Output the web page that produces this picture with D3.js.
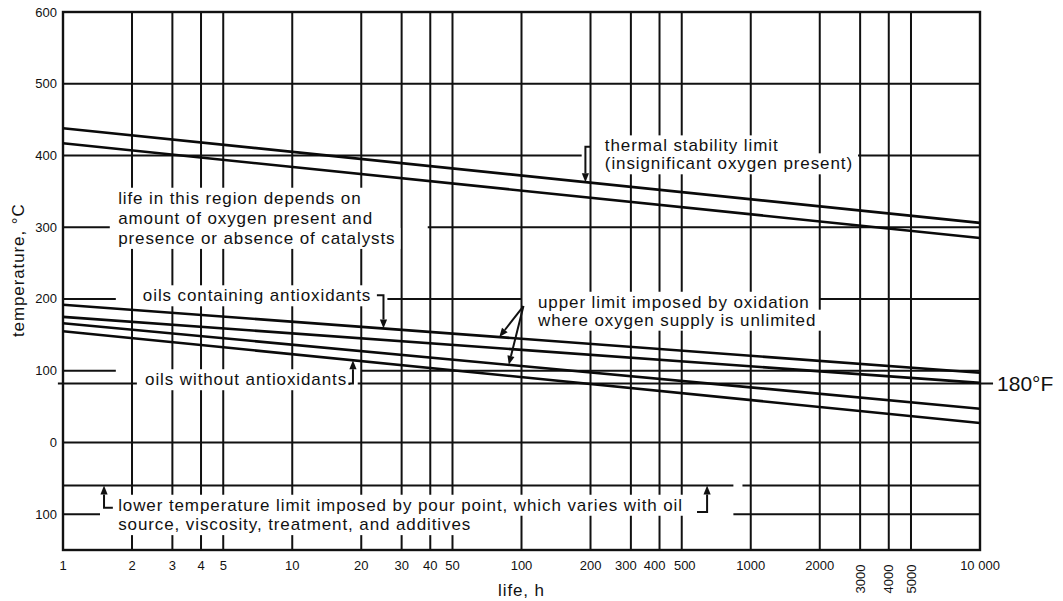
<!DOCTYPE html>
<html>
<head>
<meta charset="utf-8">
<script src="https://cdn.jsdelivr.net/npm/d3@7"></script>
<style>
  body { margin: 0; background: #fff; }
  svg { display: block; font-family: "Liberation Sans", Arial, Helvetica, sans-serif; }
  .grid { stroke: #111; stroke-width: 2; fill: none; }
  .curve { stroke: #0a0a0a; stroke-width: 2.6; fill: none; }
  .pointer { stroke: #111; stroke-width: 2; fill: none; }
  .note { font-size: 17px; letter-spacing: 0.9px; fill: #111; }
  .tick { font-size: 13px; fill: #111; }
</style>
</head>
<body>
<div id="chart"></div>
<script>
// axes: life in hours (log) and temperature in deg C
var lifeTicks = [1, 2, 3, 4, 5, 10, 20, 30, 40, 50, 100, 200, 300, 400, 500, 1000, 2000, 3000, 4000, 5000, 10000];
var lifeTickLabels = ["1", "2", "3", "4", "5", "10", "20", "30", "40", "50", "100", "200", "300", "400", "500",
    "1000", "2000", "3000", "4000", "5000", "10 000"];
var rotatedTicks = [3000, 4000, 5000];
var tempTicks = [600, 500, 400, 300, 200, 100, 0, -100];
var tempTickLabels = ["600", "500", "400", "300", "200", "100", "0", "100"];

// each limit line, read at 1 h and at 10 000 h
var lifeEnds = [1, 10000];
var thermalUpper = [438, 306];
var thermalLower = [417, 285];
var oxidation1 = [192, 97];
var oxidation2 = [175, 83];
var oxidation3 = [166, 47];
var oxidation4 = [155, 27];

var pourPoint = -60;
var limit180F = (180 - 32) * 5 / 9;

// horizontal rules, broken where the notes sit (spans in h)
var hRules = [
    {t: 500, spans: [[1, 10000]]},
    {t: 400, spans: [[1, 183], [2850, 10000]]},
    {t: 300, spans: [[1, 1.6], [39, 10000]]},
    {t: 200, spans: [[1, 1.7], [26, 100], [2000, 10000]]},
    {t: 100, spans: [[1, 1.7], [20, 10000]]},
    {t: limit180F, spans: [[0.95, 2.1], [18, 11400]]},
    {t: 0, spans: [[1, 10000]]},
    {t: pourPoint, spans: [[1, 840], [920, 10000]]},
    {t: -100, spans: [[1, 1.45], [840, 10000]]}
];

// notes: start (h) and line centres (deg C)
var notes = [
    {h: 231, t: [414, 389], lines: ["thermal stability limit", "(insignificant oxygen present)"]},
    {h: 1.74, t: [341, 313, 285], lines: ["life in this region depends on", "amount of oxygen present and",
        "presence or absence of catalysts"]},
    {h: 2.23, t: [205], lines: ["oils containing antioxidants"]},
    {h: 2.28, t: [88], lines: ["oils without antioxidants."]},
    {h: 118, t: [196, 171], lines: ["upper limit imposed by oxidation", "where oxygen supply is unlimited"]},
    {h: 1.74, t: [-87, -114], lines: ["lower temperature limit imposed by pour point, which varies with oil",
        "source, viscosity, treatment, and additives"]}
];

var width = 1063, height = 601;
var margin = {top: 12, right: 83, bottom: 51, left: 63};

var x = d3.scaleLog().domain([1, 10000]).range([margin.left, width - margin.right]);
var y = d3.scaleLinear().domain([-150, 600]).range([height - margin.bottom, margin.top]);

// crowded labels sit a little off their rules, as in the print
var labelNudge = {300: -5, 400: -5, 500: 3};

// straight line on the log axis
function lineAt(ends, h) {
    var f = Math.log10(h / lifeEnds[0]) / Math.log10(lifeEnds[1] / lifeEnds[0]);
    return ends[0] + (ends[1] - ends[0]) * f;
}

var pointers = [
    [[200, 412], [190, 412], [190, lineAt(thermalUpper, 190)]],
    [[23.4, 205], [25, 205], [25, lineAt(oxidation1, 25)]],
    [[102, 190], [80, lineAt(oxidation1, 80)]],
    [[102, 190], [88, lineAt(oxidation3, 88)]],
    [[17.6, limit180F], [18.4, limit180F], [18.4, lineAt(oxidation4, 18.4)]],
    [[1.65, -91], [1.51, -91], [1.51, pourPoint]],
    [[583, -97], [645, -97], [645, pourPoint]]
];

var svg = d3.select("#chart").append("svg")
    .attr("width", width)
    .attr("height", height);

// vertical rules
svg.append("g").selectAll("line")
    .data(lifeTicks)
    .enter().append("line")
    .attr("class", "grid")
    .attr("x1", function (d) { return x(d); })
    .attr("x2", function (d) { return x(d); })
    .attr("y1", y(600))
    .attr("y2", y(-150));

// horizontal rules
hRules.forEach(function (r) {
    svg.append("g").selectAll("line")
        .data(r.spans)
        .enter().append("line")
        .attr("class", "grid")
        .attr("x1", function (d) { return x(d[0]); })
        .attr("x2", function (d) { return x(d[1]); })
        .attr("y1", y(r.t))
        .attr("y2", y(r.t));
});

// note text, with white patches that break the grid behind it
var maskG = svg.append("g");
var textG = svg.append("g");
notes.forEach(function (n) {
    n.lines.forEach(function (line, i) {
        var t = textG.append("text")
            .attr("class", "note")
            .attr("x", x(n.h))
            .attr("y", y(n.t[i]))
            .attr("dy", "0.35em")
            .text(line);
        var b = t.node().getBBox();
        maskG.append("rect")
            .attr("x", b.x - 5)
            .attr("y", b.y - 1)
            .attr("width", b.width + 10)
            .attr("height", b.height + 2)
            .attr("fill", "#fff");
    });
});

// frame
svg.append("rect")
    .attr("x", x(1))
    .attr("y", y(600))
    .attr("width", x(10000) - x(1))
    .attr("height", y(-150) - y(600))
    .attr("fill", "none")
    .attr("stroke", "#111")
    .attr("stroke-width", 2.4);

// limit lines
var series = [thermalUpper, thermalLower, oxidation1, oxidation2, oxidation3, oxidation4];
var line = d3.line()
    .x(function (d) { return x(d[0]); })
    .y(function (d) { return y(d[1]); });
svg.append("g").selectAll("path")
    .data(series)
    .enter().append("path")
    .attr("class", "curve")
    .attr("d", function (s) {
        return line(lifeEnds.map(function (h, i) { return [h, s[i]]; }));
    });

// pointers with arrow heads
pointers.forEach(function (p) {
    var pts = p.map(function (d) { return [x(d[0]), y(d[1])]; });
    var a = pts[pts.length - 2], b = pts[pts.length - 1];
    var dx = b[0] - a[0], dy = b[1] - a[1], len = Math.sqrt(dx * dx + dy * dy);
    var ux = dx / len, uy = dy / len, hl = 9, hw = 3.6;
    var base = [b[0] - ux * hl, b[1] - uy * hl];
    var linePts = pts.slice(0, -1).concat([base]);
    svg.append("path")
        .attr("class", "pointer")
        .attr("d", d3.line()(linePts));
    svg.append("path")
        .attr("fill", "#111")
        .attr("d", d3.line()([b, [base[0] - uy * hw, base[1] + ux * hw], [base[0] + uy * hw, base[1] - ux * hw]]) + "Z");
});

textG.raise();

// tick labels
svg.append("g").selectAll("text")
    .data(tempTicks)
    .enter().append("text")
    .attr("class", "tick")
    .attr("x", x(1) - 6)
    .attr("y", function (d) { return y(d); })
    .attr("dy", "0.35em")
    .attr("text-anchor", "end")
    .text(function (d, i) { return tempTickLabels[i]; });

svg.append("g").selectAll("text")
    .data(lifeTicks)
    .enter().append("text")
    .attr("class", "tick")
    .attr("text-anchor", "middle")
    .attr("dy", "0.35em")
    .attr("transform", function (d) {
        if (rotatedTicks.indexOf(d) >= 0) return "translate(" + x(d) + "," + (y(-150) + 29) + ") rotate(-90)";
        return "translate(" + (x(d) + (labelNudge[d] || 0)) + "," + (y(-150) + 15) + ")";
    })
    .text(function (d, i) { return lifeTickLabels[i]; });

// axis titles
svg.append("text")
    .attr("class", "note")
    .attr("font-size", "16px")
    .attr("text-anchor", "middle")
    .attr("transform", "translate(18," + y(240) + ") rotate(-90)")
    .attr("dy", "0.35em")
    .text("temperature, °C");

svg.append("text")
    .attr("class", "note")
    .attr("text-anchor", "middle")
    .attr("x", x(100))
    .attr("y", y(-150) + 40)
    .attr("dy", "0.35em")
    .text("life, h");

svg.append("text")
    .attr("x", x(11400) + 4)
    .attr("y", y(limit180F))
    .attr("dy", "0.35em")
    .attr("font-size", "21px")
    .attr("fill", "#111")
    .text("180°F");
</script>
</body>
</html>
